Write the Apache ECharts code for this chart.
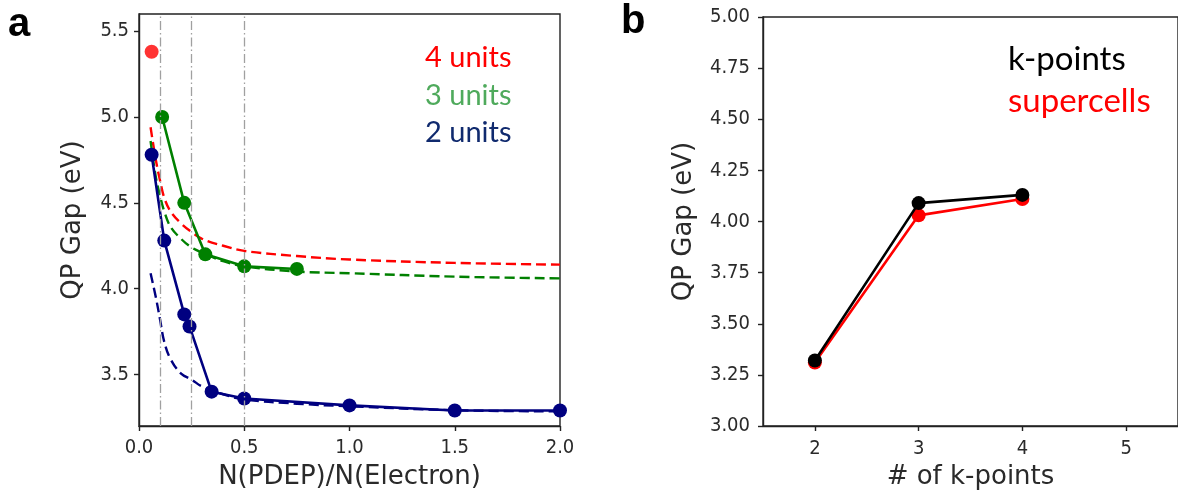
<!DOCTYPE html>
<html><head><meta charset="utf-8">
<script src="https://cdn.jsdelivr.net/npm/echarts@6/dist/echarts.min.js"></script>
<style>html,body{margin:0;padding:0;background:#fff}#c{width:1178px;height:495px}</style>
</head><body><div id="c"></div>
<script>
// ---- Panel a data ----
const refLinesA = [0.1, 0.25, 0.5];
const xTicksA = [0, 0.5, 1.0, 1.5, 2.0];
const yTicksA = [3.5, 4.0, 4.5, 5.0, 5.5];
const fitX = [0.055, 0.08, 0.1, 0.12, 0.15, 0.2, 0.25, 0.3, 0.4, 0.5, 0.75, 1.0, 1.5, 2.0];
const fit4 = [4.94, 4.75, 4.63, 4.53, 4.45, 4.38, 4.33, 4.29, 4.25, 4.22, 4.19, 4.17, 4.15, 4.14];
const fit3 = [4.86, 4.65, 4.54, 4.45, 4.36, 4.29, 4.24, 4.21, 4.16, 4.13, 4.10, 4.09, 4.07, 4.06];
const fit2 = [4.09, 3.95, 3.82, 3.69, 3.59, 3.505, 3.47, 3.43, 3.385, 3.355, 3.33, 3.315, 3.292, 3.285];
const x2 = [0.06, 0.12, 0.215, 0.24, 0.345, 0.5, 1.0, 1.5, 2.0];
const y2 = [4.78, 4.28, 3.85, 3.78, 3.40, 3.36, 3.32, 3.29, 3.29];
const x3 = [0.11, 0.215, 0.315, 0.5, 0.75];
const y3 = [5.00, 4.50, 4.20, 4.13, 4.115];
const x4 = [0.06];
const y4 = [5.38];
// ---- Panel b data ----
const kpts = [2, 3, 4];
const xTicksB = [2, 3, 4, 5];
const gapKpoints = [3.32, 4.09, 4.13];
const gapSupercells = [3.31, 4.03, 4.11];

const zip = (xs, ys) => xs.map((x, i) => [x, ys[i]]);
const axisCol = '#222';
const labCol = '#2a2a2a';
const tickFont = "'DejaVu Sans Condensed','DejaVu Sans',sans-serif";
const nameFont = "'DejaVu Sans',sans-serif";
const navy = '#000080', green = '#008000', red = '#ff0000';
const LW = 2.6, SS = 14;

const chart = echarts.init(document.getElementById('c'), null, {renderer: 'canvas'});
const dashFit = (data, color) => ({
  type: 'line', xAxisIndex: 0, yAxisIndex: 0, data, smooth: 0.4, showSymbol: false, symbol: 'none',
  lineStyle: {color, width: 2.4, type: [10, 5]}, z: 2, silent: true
});
const solid = (data, color) => ({
  type: 'line', xAxisIndex: 0, yAxisIndex: 0, data, symbol: 'circle', symbolSize: SS,
  itemStyle: {color}, lineStyle: {color, width: LW}, z: 3, silent: true
});
const tickLabel = (extra) => Object.assign({color: labCol, fontSize: 20, fontFamily: tickFont}, extra);
const nameStyle = {color: labCol, fontSize: 26, fontFamily: nameFont};

chart.setOption({
  animation: false,
  grid: [
    {left: 139, top: 14, width: 421, height: 412, show: true, borderColor: axisCol, borderWidth: 1.4, containLabel: false},
    {left: 763, top: 17, width: 419, height: 409, show: true, borderColor: axisCol, borderWidth: 1.4, containLabel: false}
  ],
  xAxis: [
    {gridIndex: 0, type: 'value', min: 0, max: 2, splitLine: {show: false},
     axisLine: {lineStyle: {color: axisCol, width: 1.4}},
     axisTick: {customValues: xTicksA, length: 5, lineStyle: {color: axisCol, width: 1.4}},
     axisLabel: tickLabel({customValues: xTicksA, formatter: v => v.toFixed(1), margin: 12}),
     name: 'N(PDEP)/N(Electron)', nameLocation: 'middle', nameGap: 38, nameTextStyle: nameStyle},
    {gridIndex: 1, type: 'value', min: 1.5, max: 5.5, splitLine: {show: false},
     axisLine: {lineStyle: {color: axisCol, width: 1.4}},
     axisTick: {customValues: xTicksB, length: 5, lineStyle: {color: axisCol, width: 1.4}},
     axisLabel: tickLabel({customValues: xTicksB, formatter: v => String(v), margin: 13}),
     name: '# of k-points', nameLocation: 'middle', nameGap: 38, nameTextStyle: nameStyle}
  ],
  yAxis: [
    {gridIndex: 0, type: 'value', min: 3.2, max: 5.6, splitLine: {show: false},
     axisLine: {show: true, lineStyle: {color: axisCol, width: 1.4}},
     axisTick: {show: true, customValues: yTicksA, length: 5, lineStyle: {color: axisCol, width: 1.4}},
     axisLabel: tickLabel({customValues: yTicksA, formatter: v => v.toFixed(1), margin: 10}),
     name: 'QP Gap (eV)', nameLocation: 'middle', nameGap: 53, nameRotate: 90, nameTextStyle: nameStyle},
    {gridIndex: 1, type: 'value', min: 3, max: 5, interval: 0.25, splitLine: {show: false},
     axisLine: {show: true, lineStyle: {color: axisCol, width: 1.4}},
     axisTick: {show: true, length: 5, lineStyle: {color: axisCol, width: 1.4}},
     axisLabel: tickLabel({formatter: v => v.toFixed(2), margin: 13}),
     name: 'QP Gap (eV)', nameLocation: 'middle', nameGap: 66, nameRotate: 90, nameTextStyle: nameStyle}
  ],
  series: [
    {type: 'line', xAxisIndex: 0, yAxisIndex: 0, data: [], silent: true,
     markLine: {silent: true, symbol: 'none', label: {show: false},
       lineStyle: {color: '#a0a0a0', width: 1.3, type: [9, 3, 1.5, 3]},
       data: refLinesA.map(v => ({xAxis: v}))}},
    dashFit(zip(fitX, fit4), red),
    dashFit(zip(fitX, fit3), green),
    dashFit(zip(fitX, fit2), navy),
    solid(zip(x2, y2), navy),
    solid(zip(x3, y3), green),
    {type: 'scatter', xAxisIndex: 0, yAxisIndex: 0, data: zip(x4, y4), symbolSize: SS, itemStyle: {color: red}, z: 3, silent: true},
    {type: 'line', xAxisIndex: 1, yAxisIndex: 1, data: zip(kpts, gapSupercells), symbol: 'circle', symbolSize: SS,
     itemStyle: {color: red}, lineStyle: {color: red, width: LW}, z: 3, silent: true},
    {type: 'line', xAxisIndex: 1, yAxisIndex: 1, data: zip(kpts, gapKpoints), symbol: 'circle', symbolSize: SS,
     itemStyle: {color: '#000'}, lineStyle: {color: '#000', width: LW}, z: 4, silent: true}
  ],
  graphic: [
    {type: 'text', x: 8, y: 25, style: {text: 'a', font: "bold 40px 'Liberation Sans', Arial", fill: '#000', verticalAlign: 'middle'}},
    {type: 'text', x: 621, y: 22, style: {text: 'b', font: "bold 40px 'Liberation Sans', Arial", fill: '#000', verticalAlign: 'middle'}},
    {type: 'text', x: 425, y: 58, style: {text: '4 units', font: "29px Lato, 'Open Sans'", fill: '#ff0000', verticalAlign: 'middle'}},
    {type: 'text', x: 425, y: 96, style: {text: '3 units', font: "29px Lato, 'Open Sans'", fill: '#4faa5c', verticalAlign: 'middle'}},
    {type: 'text', x: 425, y: 133, style: {text: '2 units', font: "29px Lato, 'Open Sans'", fill: '#102a6e', verticalAlign: 'middle'}},
    {type: 'text', x: 1008, y: 59, style: {text: 'k-points', font: "33px Lato, 'Open Sans'", fill: '#000', verticalAlign: 'middle'}},
    {type: 'text', x: 1008, y: 101, style: {text: 'supercells', font: "33px Lato, 'Open Sans'", fill: '#ff0000', verticalAlign: 'middle'}}
  ]
});
</script></body></html>
